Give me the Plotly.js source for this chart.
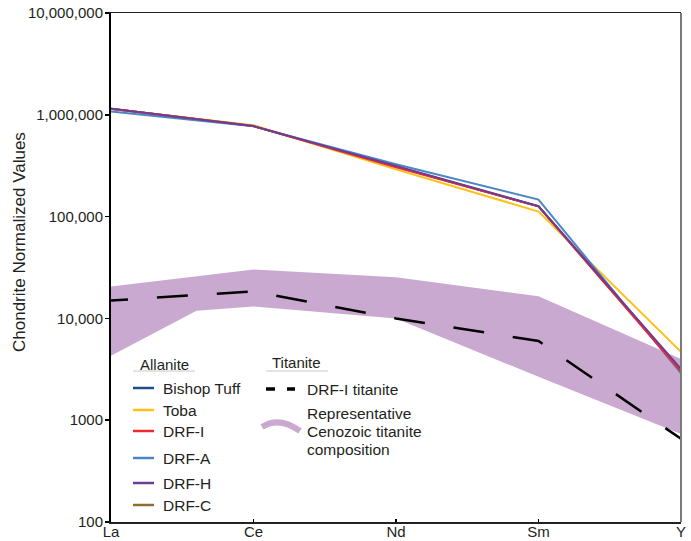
<!DOCTYPE html>
<html>
<head>
<meta charset="utf-8">
<script src="https://cdn.plot.ly/plotly-3.0.1.min.js"></script>
<style>
  html, body { margin: 0; padding: 0; background: #ffffff; }
  #chart { width: 691px; height: 541px; }
</style>
</head>
<body>
<div id="chart"></div>
<script>
// ---- Data (chondrite-normalized values) ----
const categories = ['La', 'Ce', 'Nd', 'Sm', 'Y'];
const yTickVals = [100, 1000, 10000, 100000, 1000000, 10000000];
const yTickText = ['100', '1000', '10,000', '100,000', '1,000,000', '10,000,000'];

const bishopTuff = [1150000, 775000, 310000, 126000, 3100];
const drfC       = [1150000, 775000, 310000, 126000, 3100];
const toba       = [1140000, 790000, 291000, 112000, 4700];
const drfA       = [1080000, 770000, 327000, 147000, 2880];
const drfI       = [1150000, 775000, 305000, 126000, 3000];
const drfH       = [1150000, 775000, 315000, 127000, 3190];

const drfITitanite = [15000, 18400, 10000, 6000, 656];

// Representative Cenozoic titanite envelope
const bandUpperX = [0, 1, 2, 3, 4];
const bandUpper  = [20600, 30200, 25400, 16500, 4000];
const bandLowerX = [0, 0.6, 1, 2, 3, 4];
const bandLower  = [4300, 11900, 13100, 9950, 2670, 730];

// ---- Layout helpers ----
const W = 691, H = 541;
const M = { l: 111, r: 10, t: 13, b: 19 };
const PW = W - M.l - M.r, PH = H - M.t - M.b;
const px = x => (x - M.l) / PW;          // pixel -> paper x
const py = y => (H - M.b - y) / PH;      // pixel -> paper y

const FONT = 'Liberation Sans, Arial, Helvetica, sans-serif';
const TXT = '#231f20';

const xIdx = categories.map((c, i) => i);

const colors = {
  bishop: '#1f4e8c',
  toba: '#fdc116',
  drfI: '#ee2a2e',
  drfA: '#4a86c6',
  drfH: '#6b3c98',
  drfC: '#8c6e2e',
  band: '#caa9d0'
};

function lineTrace(name, y, color) {
  return {
    x: xIdx, y: y, name: name, type: 'scatter', mode: 'lines',
    line: { color: color, width: 2 }, hoverinfo: 'name+y'
  };
}

const bandX = bandUpperX.concat(bandLowerX.slice().reverse());
const bandY = bandUpper.concat(bandLower.slice().reverse());

const dashPattern = '17px,29px' + ',31px,29px'.repeat(14);

const traces = [
  {
    x: bandX, y: bandY, type: 'scatter', mode: 'lines', fill: 'toself',
    fillcolor: colors.band, line: { width: 0, color: colors.band },
    name: 'Representative Cenozoic titanite composition', hoverinfo: 'skip'
  },
  {
    x: xIdx, y: drfITitanite, type: 'scatter', mode: 'lines',
    name: 'DRF-I titanite', line: { color: '#000000', width: 2.5, dash: dashPattern }
  },
  lineTrace('Bishop Tuff', bishopTuff, colors.bishop),
  lineTrace('DRF-C', drfC, colors.drfC),
  lineTrace('Toba', toba, colors.toba),
  lineTrace('DRF-A', drfA, colors.drfA),
  lineTrace('DRF-I', drfI, colors.drfI),
  lineTrace('DRF-H', drfH, colors.drfH)
];

// ---- Manual legend ----
const annotations = [];
const shapes = [];

function addText(text, x, y, size) {
  annotations.push({
    xref: 'paper', yref: 'paper', x: px(x), y: py(y), text: text,
    showarrow: false, xanchor: 'left', yanchor: 'middle',
    font: { family: FONT, size: size || 15.5, color: TXT }
  });
}
function addLine(x0, y0, x1, y1, color, width, dash) {
  shapes.push({
    type: 'line', xref: 'paper', yref: 'paper',
    x0: px(x0), y0: py(y0), x1: px(x1), y1: py(y1),
    line: { color: color, width: width, dash: dash || 'solid' }
  });
}

// y-axis title placed as in the reference (not centred on the axis)
annotations.push({
  xref: 'paper', yref: 'paper', x: px(20), y: py(242),
  text: 'Chondrite Normalized Values', textangle: -90, showarrow: false,
  xanchor: 'center', yanchor: 'middle',
  font: { family: FONT, size: 17, color: TXT }
});

// headers
addText('Allanite', 138, 364, 15);
addLine(133, 371, 195, 371, '#c8c8c8', 1);
addText('Titanite', 270, 362, 15);
addLine(266, 371, 328, 371, '#c8c8c8', 1);

const allaniteLegend = [
  ['Bishop Tuff', colors.bishop, 388],
  ['Toba', colors.toba, 410],
  ['DRF-I', colors.drfI, 431],
  ['DRF-A', colors.drfA, 458],
  ['DRF-H', colors.drfH, 483],
  ['DRF-C', colors.drfC, 505]
];
allaniteLegend.forEach(([name, col, y]) => {
  addLine(133, y, 154, y, col, 2.5);
  addText(name, 161, y);
});

// titanite dashed symbol
addLine(266, 389, 275, 389, '#000000', 3.5);
addLine(287, 389, 295, 389, '#000000', 3.5);
addText('DRF-I titanite', 305, 389);

// band swash symbol
shapes.push({
  type: 'path', xref: 'paper', yref: 'paper',
  path: `M ${px(262)} ${py(427)} Q ${px(279)} ${py(416)} ${px(300)} ${py(431)}`,
  line: { color: colors.band, width: 6 }
});
addText('Representative', 305, 413);
addText('Cenozoic titanite', 305, 431);
addText('composition', 305, 449);

// right frame edge (grey)
shapes.push({
  type: 'line', xref: 'paper', yref: 'paper', x0: 1, x1: 1, y0: 0, y1: 1,
  line: { color: '#7a7a7a', width: 2 }
});

const layout = {
  width: W, height: H,
  margin: M,
  paper_bgcolor: '#ffffff', plot_bgcolor: '#ffffff',
  showlegend: false,
  font: { family: FONT, color: TXT, size: 15 },
  xaxis: {
    range: [0, 4], tickmode: 'array', tickvals: xIdx, ticktext: categories,
    showgrid: false, zeroline: false,
    showline: true, mirror: true, linecolor: '#222222', linewidth: 1.5,
    ticks: 'inside', ticklen: 3, tickwidth: 1.5, tickcolor: '#000000',
    ticklabelstandoff: -5,
    tickfont: { family: FONT, size: 15, color: TXT }
  },
  yaxis: {
    type: 'log', range: [2, 7], tickmode: 'array',
    tickvals: yTickVals, ticktext: yTickText,
    showgrid: false, zeroline: false,
    showline: true, linecolor: '#000000', linewidth: 2,
    ticks: 'outside', ticklen: 4, tickwidth: 1.5, tickcolor: '#000000',
    ticklabelstandoff: -1,
    tickfont: { family: FONT, size: 15, color: TXT }
  },
  annotations: annotations,
  shapes: shapes
};

Plotly.newPlot('chart', traces, layout, { staticPlot: true, displayModeBar: false });
</script>
</body>
</html>
